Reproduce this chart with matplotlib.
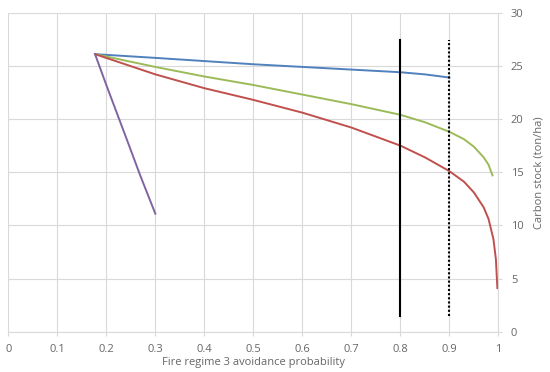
import numpy as np
import matplotlib.pyplot as plt

plt.rcParams['font.family'] = ['Open Sans', 'DejaVu Sans']

# Curves (x = avoidance probability, y = carbon stock)
blue_x = [0.177, 0.3, 0.4, 0.5, 0.6, 0.7, 0.8, 0.85, 0.9]
blue_y = [26.1, 25.75, 25.45, 25.15, 24.9, 24.65, 24.4, 24.2, 23.9]

green_x = [0.177, 0.3, 0.4, 0.5, 0.6, 0.7, 0.8, 0.85, 0.9, 0.93, 0.95, 0.97, 0.98, 0.988]
green_y = [26.1, 24.9, 24.0, 23.2, 22.3, 21.4, 20.4, 19.7, 18.8, 18.1, 17.4, 16.4, 15.7, 14.7]

red_x = [0.177, 0.3, 0.4, 0.5, 0.6, 0.7, 0.8, 0.85, 0.9, 0.93, 0.95, 0.97, 0.98, 0.99, 0.995, 0.998]
red_y = [26.1, 24.2, 22.9, 21.8, 20.6, 19.2, 17.5, 16.4, 15.1, 14.1, 13.1, 11.7, 10.6, 8.7, 6.8, 4.1]

purple_x = [0.177, 0.2, 0.24, 0.27, 0.3]
purple_y = [26.1, 23.2, 18.3, 14.6, 11.1]

thresholds = [0.8, 0.9]
threshold_styles = ['-', (0, (1, 1))]
threshold_span = [1.5, 27.4]

fig = plt.figure(figsize=(5.5, 3.72), dpi=100)
ax = fig.add_axes([0.0151, 0.1083, 0.891, 0.8576])

ax.plot(blue_x, blue_y, color='#4f81bd', lw=1.4)
ax.plot(green_x, green_y, color='#9bbb59', lw=1.4)
ax.plot(red_x, red_y, color='#c0504d', lw=1.4)
ax.plot(purple_x, purple_y, color='#8064a2', lw=1.4)

for x, ls in zip(thresholds, threshold_styles):
    ax.plot([x, x], threshold_span, color='black', lw=1.5, linestyle=ls)

ax.set_xlim(0, 1)
ax.set_ylim(0, 30)
ax.set_xticks(np.arange(0, 1.01, 0.1))
ax.set_xticklabels(['0', '0.1', '0.2', '0.3', '0.4', '0.5', '0.6', '0.7', '0.8', '0.9', '1'])
ax.set_yticks(range(0, 31, 5))

ax.yaxis.tick_right()
ax.yaxis.set_label_position('right')
ax.grid(True, color='#d9d9d9', lw=0.8)
ax.set_axisbelow(True)

for side in ['top', 'left']:
    ax.spines[side].set_visible(False)
for side in ['bottom', 'right']:
    ax.spines[side].set_color('#d9d9d9')
    ax.spines[side].set_linewidth(0.8)

ax.tick_params(axis='both', colors='#d9d9d9', labelcolor='#666666', labelsize=8, length=3, width=0.8)
ax.tick_params(axis='x', pad=6)
ax.tick_params(axis='y', pad=6)

ax.set_xlabel('Fire regime 3 avoidance probability', fontsize=8, color='#666666', labelpad=1)
ax.set_ylabel('Carbon stock (ton/ha)', fontsize=8, color='#666666', labelpad=7)

fig.savefig('out.png', dpi=100)
